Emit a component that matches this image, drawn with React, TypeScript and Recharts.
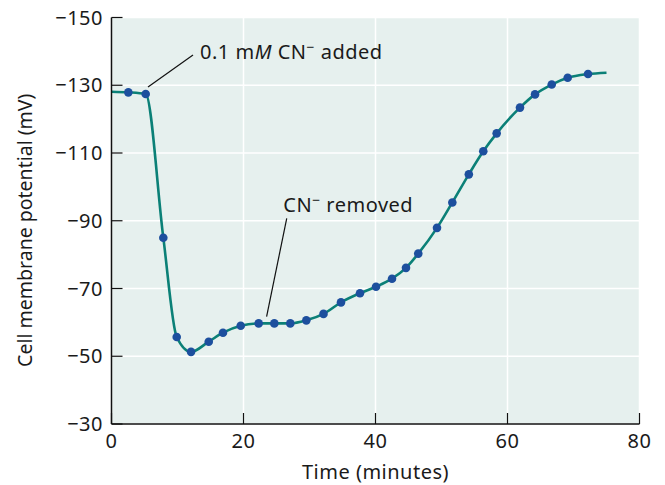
import React from 'react';
import {
  LineChart,
  Line,
  XAxis,
  YAxis,
  CartesianGrid,
  ReferenceLine,
  ReferenceDot,
  Label,
} from 'recharts';

// Measured points (minutes, mV)
const measuredTimes = [
  2.55, 5.18, 7.85, 9.88, 12.05, 14.73, 16.89, 19.58, 22.3, 24.67, 27.09, 29.52,
  32.12, 34.77, 37.65, 40.08, 42.5, 44.62, 46.48, 49.32, 51.64, 54.14, 56.33,
  58.36, 61.89, 64.17, 66.7, 69.12, 72.2,
];
const measuredPotentials = [
  -127.9, -127.4, -85.0, -55.7, -51.3, -54.3, -56.95, -59.0, -59.7, -59.7, -59.7,
  -60.6, -62.5, -65.9, -68.6, -70.5, -72.9, -76.1, -80.3, -87.9, -95.4, -103.7,
  -110.5, -115.8, -123.4, -127.3, -130.2, -132.2, -133.3,
];
// Curve extends beyond measured points at both ends
const curveStart = { t: 0, v: -128.1 };
const curveEnd = { t: 75.0, v: -133.7 };

const xTicks = [0, 20, 40, 60, 80];
const yTicks = [-150, -130, -110, -90, -70, -50, -30];

// Annotations (data coordinates)
const addedLeader = [
  { x: 5.53, y: -129.5 },
  { x: 12.35, y: -138.9 },
];
const addedText = { x: 13.41, y: -137.75 };
const removedLeader = [
  { x: 23.5, y: -61.7 },
  { x: 26.55, y: -90.7 },
];
const removedText = { x: 26.03, y: -92.6 };

const data = [
  { t: curveStart.t, v: curveStart.v, measured: false },
  ...measuredTimes.map((t, i) => ({ t, v: measuredPotentials[i], measured: true })),
  { t: curveEnd.t, v: curveEnd.v, measured: false },
];

const FONT = '"Noto Sans", "Liberation Sans", Arial, sans-serif';
const FS = 20;
const LS = 0.5;
const TXT = '#1a1a1a';
const fmt = (v: number) => (v < 0 ? '\u2212' + Math.abs(v) : String(v));

export default function App() {
  return (
    <div style={{ width: 665, height: 485, margin: '-8px 0 0 -8px', fontFamily: FONT }}>
      <LineChart
        width={665}
        height={485}
        data={data}
        margin={{ top: 17.5, right: 25.5, bottom: 6, left: 20 }}
        style={{ fontFamily: FONT }}
      >
        <CartesianGrid stroke="#ffffff" strokeWidth={1.5} fill="#e6f0ee" />
        <XAxis
          dataKey="t"
          type="number"
          domain={[0, 80]}
          ticks={xTicks}
          interval={0}
          height={55}
          tickSize={-11}
          tickMargin={21}
          axisLine={{ stroke: '#111', strokeWidth: 1.5 }}
          tickLine={{ stroke: '#111', strokeWidth: 1.2 }}
          tick={{ fill: TXT, fontSize: FS, fontFamily: FONT, letterSpacing: LS }}
        >
          <Label
            value="Time (minutes)"
            position="insideBottom"
            offset={0}
            style={{ fill: TXT, fontSize: FS, fontFamily: FONT, letterSpacing: LS }}
          />
        </XAxis>
        <YAxis
          type="number"
          domain={[-150, -30]}
          reversed
          ticks={yTicks}
          interval={0}
          width={91.5}
          tickSize={-11}
          tickMargin={19.5}
          tickFormatter={fmt}
          axisLine={{ stroke: '#111', strokeWidth: 1.5 }}
          tickLine={{ stroke: '#111', strokeWidth: 1.2 }}
          tick={{ fill: TXT, fontSize: FS, fontFamily: FONT, letterSpacing: LS }}
        >
          <Label
            content={(props: any) => {
              const vb = props.viewBox || { x: 20, y: 17.5, width: 91.5, height: 406.5 };
              const cx = vb.x + 5;
              const cy = vb.y + vb.height / 2 + 9.5;
              return (
                <text
                  x={cx}
                  y={cy}
                  transform={`rotate(-90, ${cx}, ${cy})`}
                  textAnchor="middle"
                  dy="0.36em"
                  fill={TXT}
                  fontSize={19.5}
                  fontFamily={FONT}
                >
                  Cell membrane potential (mV)
                </text>
              );
            }}
          />
        </YAxis>
        <ReferenceLine segment={addedLeader} stroke="#111" strokeWidth={1.2} ifOverflow="visible" />
        <ReferenceLine segment={removedLeader} stroke="#111" strokeWidth={1.2} ifOverflow="visible" />
        <ReferenceDot
          x={addedText.x}
          y={addedText.y}
          r={0}
          ifOverflow="visible"
          shape={(p: any) => (
            <text x={p.cx} y={p.cy} fill={TXT} fontSize={FS} fontFamily={FONT} letterSpacing={LS}>
              0.1 m<tspan fontStyle="italic">M</tspan> CN<tspan dy={-7} fontSize={14}>−</tspan>
              <tspan dy={7}> added</tspan>
            </text>
          )}
        />
        <ReferenceDot
          x={removedText.x}
          y={removedText.y}
          r={0}
          ifOverflow="visible"
          shape={(p: any) => (
            <text x={p.cx} y={p.cy} fill={TXT} fontSize={FS} fontFamily={FONT} letterSpacing={LS}>
              CN<tspan dy={-7} fontSize={14}>−</tspan>
              <tspan dy={7}> removed</tspan>
            </text>
          )}
        />
        <Line
          dataKey="v"
          type="monotone"
          stroke="#0b8077"
          strokeWidth={2.6}
          isAnimationActive={false}
          activeDot={false}
          dot={(p: any) =>
            p.payload && p.payload.measured ? (
              <circle key={p.index} cx={p.cx} cy={p.cy} r={4.3} fill="#1d4f9e" stroke="none" />
            ) : (
              <g key={p.index} />
            )
          }
        />
      </LineChart>
    </div>
  );
}
